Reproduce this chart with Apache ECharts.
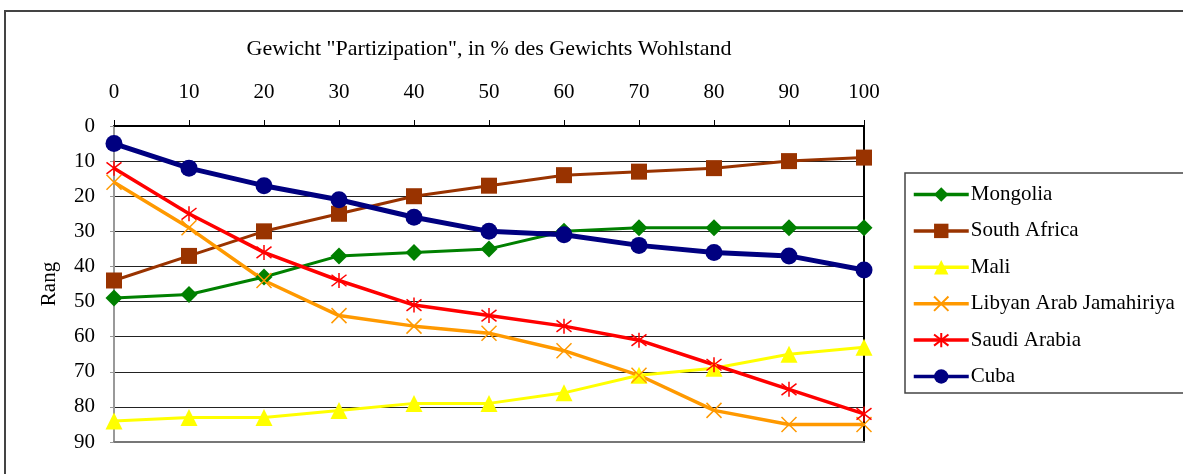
<!DOCTYPE html>
<html>
<head>
<meta charset="utf-8">
<script src="https://cdn.jsdelivr.net/npm/echarts@6/dist/echarts.min.js"></script>
<style>
  html, body { margin: 0; padding: 0; background: #fff; }
  #chart { width: 1183px; height: 474px; }
</style>
</head>
<body>
<div id="chart"></div>
<script>
const weights = [0, 10, 20, 30, 40, 50, 60, 70, 80, 90, 100]
const mongolia = [49, 48, 43, 37, 36, 35, 30, 29, 29, 29, 29]
const southAfrica = [44, 37, 30, 25, 20, 17, 14, 13, 12, 10, 9]
const mali = [84, 83, 83, 81, 79, 79, 76, 71, 69, 65, 63]
const libya = [16, 29, 44, 54, 57, 59, 64, 71, 81, 85, 85]
const saudi = [12, 25, 36, 44, 51, 54, 57, 61, 68, 75, 82]
const cuba = [5, 12, 17, 21, 26, 30, 31, 34, 36, 37, 41]

const font = 'Liberation Serif'
const pairs = arr => arr.map((v, i) => [weights[i], v])

// offene Pfade: nur Kontur sichtbar
const crossPath = 'path://M0,0L10,10M0,10L10,0'
const starPath = 'path://M0,0L10,10M0,10L10,0M5,-1.5L5,11.5'

function mkSeries(name, data, color, symbol, size, width, open) {
  return {
    name: name,
    type: 'line',
    data: pairs(data),
    symbol: symbol,
    symbolSize: size,
    showAllSymbol: true,
    lineStyle: { color: color, width: width },
    itemStyle: open
      ? { color: color, borderColor: color, borderWidth: 1.5 }
      : { color: color, borderWidth: 0 },
    emphasis: { disabled: true }
  }
}

const names = ['Mongolia', 'South Africa', 'Mali', 'Libyan Arab Jamahiriya', 'Saudi Arabia', 'Cuba']

const chart = echarts.init(document.getElementById('chart'))
chart.setOption({
  animation: false,
  textStyle: { fontFamily: font },
  graphic: [{
    type: 'rect',
    shape: { x: 5, y: 11, width: 1200, height: 480 },
    style: { fill: 'none', stroke: '#444', lineWidth: 2 }
  }],
  grid: { left: 114, right: 319, top: 126, bottom: 32 },
  xAxis: [{
    type: 'value',
    position: 'top',
    min: 0, max: 100, interval: 10,
    name: 'Gewicht "Partizipation", in % des Gewichts Wohlstand',
    nameLocation: 'middle',
    nameGap: 66,
    nameTextStyle: { fontFamily: font, fontSize: 22, color: '#000' },
    axisLine: { show: true, onZero: false, lineStyle: { color: '#000', width: 2 } },
    axisTick: { show: true, length: 6, lineStyle: { color: '#000' } },
    axisLabel: { fontFamily: font, fontSize: 21, color: '#000', margin: 23 },
    splitLine: { show: false }
  }, {
    type: 'value',
    position: 'bottom',
    min: 0, max: 100, interval: 10,
    axisLine: { show: true, onZero: false, lineStyle: { color: '#777', width: 2 } },
    axisTick: { show: false },
    axisLabel: { show: false },
    splitLine: { show: false }
  }],
  yAxis: [{
    type: 'value',
    inverse: true,
    min: 0, max: 90, interval: 10,
    name: 'Rang',
    nameLocation: 'middle',
    nameGap: 54,
    nameRotate: 90,
    nameTextStyle: { fontFamily: font, fontSize: 21, color: '#000' },
    axisLine: { show: true, onZero: false, lineStyle: { color: '#999', width: 2 } },
    axisTick: { show: true, length: 4, lineStyle: { color: '#999' } },
    axisLabel: { fontFamily: font, fontSize: 21, color: '#000', margin: 19 },
    splitLine: { show: true, lineStyle: { color: '#222', width: 1 } }
  }, {
    type: 'value',
    position: 'right',
    inverse: true,
    min: 0, max: 90, interval: 10,
    axisLine: { show: true, onZero: false, lineStyle: { color: '#000', width: 2 } },
    axisTick: { show: false },
    axisLabel: { show: false },
    splitLine: { show: false }
  }],
  legend: {
    orient: 'vertical',
    left: 905,
    top: 173,
    itemWidth: 55,
    itemHeight: 18,
    itemGap: 15.4,
    padding: [11, 40, 6, 7],
    borderColor: '#444',
    borderWidth: 1.5,
    lineStyle: { width: 3.5 },
    textStyle: { fontFamily: font, fontSize: 21, color: '#000', padding: [0, 0, 0, -3] },
    data: names
  },
  series: [
    mkSeries(names[0], mongolia, '#008000', 'diamond', 17, 3, false),
    mkSeries(names[1], southAfrica, '#993300', 'rect', 16, 3, false),
    mkSeries(names[2], mali, '#ffff00', 'triangle', 17, 3, false),
    mkSeries(names[3], libya, '#ff9900', crossPath, 15, 3.5, true),
    mkSeries(names[4], saudi, '#ff0000', starPath, 15, 3.5, true),
    mkSeries(names[5], cuba, '#000080', 'circle', 17, 5, false)
  ]
})
</script>
</body>
</html>
